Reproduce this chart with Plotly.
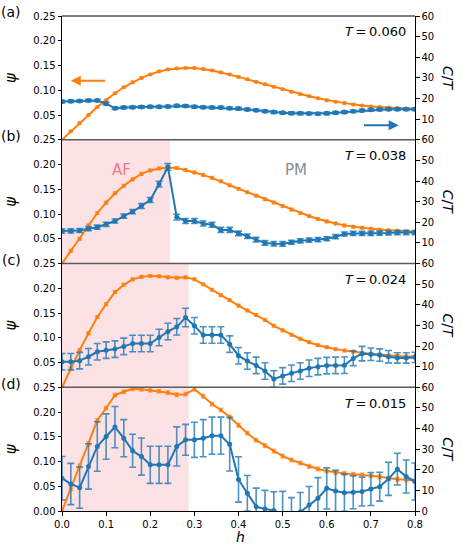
import plotly.graph_objects as go

# ---------------- data ----------------
h = [0.00, 0.02, 0.04, 0.06, 0.08, 0.10, 0.12, 0.14, 0.16, 0.18, 0.20, 0.22, 0.24, 0.26,
     0.28, 0.30, 0.32, 0.34, 0.36, 0.38, 0.40, 0.42, 0.44, 0.46, 0.48, 0.50, 0.52, 0.54,
     0.56, 0.58, 0.60, 0.62, 0.64, 0.66, 0.68, 0.70, 0.72, 0.74, 0.76, 0.78, 0.80]

temps = ["0.060", "0.038", "0.024", "0.015"]
panel_labels = ["(a)", "(b)", "(c)", "(d)"]
af_edge = [None, 0.245, 0.287, 0.287]

psi_a = [0.000, 0.017, 0.034, 0.050, 0.066, 0.080, 0.094, 0.106, 0.116, 0.125, 0.132, 0.138, 0.142, 0.144,
         0.145, 0.145, 0.143, 0.140, 0.136, 0.132, 0.127, 0.122, 0.117, 0.112, 0.107, 0.102, 0.097, 0.092,
         0.088, 0.084, 0.080, 0.077, 0.074, 0.071, 0.069, 0.067, 0.066, 0.065, 0.064, 0.063, 0.062]
psi_b = [0.000, 0.026, 0.050, 0.077, 0.102, 0.123, 0.142, 0.157, 0.170, 0.181, 0.188, 0.192, 0.194, 0.193,
         0.189, 0.184, 0.179, 0.173, 0.166, 0.158, 0.151, 0.144, 0.137, 0.130, 0.123, 0.116, 0.109, 0.102,
         0.096, 0.090, 0.085, 0.081, 0.077, 0.074, 0.072, 0.070, 0.068, 0.067, 0.066, 0.065, 0.064]
psi_c = [0.000, 0.038, 0.075, 0.109, 0.142, 0.168, 0.192, 0.207, 0.218, 0.223, 0.225, 0.224, 0.222, 0.221,
         0.222, 0.218, 0.208, 0.197, 0.186, 0.176, 0.165, 0.155, 0.146, 0.136, 0.124, 0.115, 0.106, 0.098,
         0.091, 0.085, 0.081, 0.077, 0.074, 0.072, 0.069, 0.067, 0.066, 0.064, 0.063, 0.062, 0.062]
psi_d = [0.000, 0.045, 0.091, 0.136, 0.183, 0.208, 0.234, 0.241, 0.247, 0.246, 0.244, 0.242, 0.239, 0.235,
         0.236, 0.246, 0.232, 0.216, 0.204, 0.190, 0.173, 0.157, 0.143, 0.132, 0.121, 0.111, 0.103, 0.097,
         0.090, 0.085, 0.081, 0.078, 0.076, 0.074, 0.073, 0.071, 0.069, 0.066, 0.064, 0.063, 0.061]

psi_err_a = [0.002, 0.002, 0.002, 0.002, 0.002, 0.002, 0.002, 0.002, 0.002, 0.002, 0.002, 0.002, 0.002, 0.002,
             0.002, 0.002, 0.002, 0.002, 0.002, 0.002, 0.002, 0.002, 0.002, 0.002, 0.002, 0.002, 0.002, 0.002,
             0.002, 0.002, 0.002, 0.002, 0.002, 0.002, 0.002, 0.002, 0.002, 0.002, 0.002, 0.002, 0.002]
psi_err_b = [0.003, 0.003, 0.003, 0.003, 0.003, 0.003, 0.003, 0.003, 0.003, 0.003, 0.003, 0.003, 0.003, 0.003,
             0.003, 0.003, 0.003, 0.003, 0.003, 0.003, 0.003, 0.003, 0.003, 0.003, 0.003, 0.003, 0.003, 0.003,
             0.003, 0.003, 0.003, 0.003, 0.003, 0.003, 0.003, 0.003, 0.003, 0.003, 0.003, 0.003, 0.003]
psi_err_c = [0.003, 0.003, 0.003, 0.003, 0.003, 0.003, 0.003, 0.003, 0.003, 0.003, 0.003, 0.003, 0.003, 0.003,
             0.003, 0.003, 0.003, 0.003, 0.003, 0.003, 0.003, 0.003, 0.003, 0.003, 0.003, 0.003, 0.003, 0.003,
             0.003, 0.003, 0.003, 0.003, 0.003, 0.003, 0.003, 0.003, 0.003, 0.003, 0.003, 0.003, 0.003]
psi_err_d = [0.004, 0.004, 0.004, 0.004, 0.004, 0.004, 0.004, 0.004, 0.004, 0.004, 0.004, 0.004, 0.004, 0.004,
             0.004, 0.004, 0.004, 0.004, 0.004, 0.004, 0.004, 0.004, 0.004, 0.004, 0.004, 0.004, 0.004, 0.004,
             0.004, 0.004, 0.004, 0.004, 0.004, 0.004, 0.004, 0.004, 0.004, 0.004, 0.004, 0.004, 0.004]

ct_a = [18.5, 18.7, 18.8, 19.0, 19.0, 17.5, 15.3, 15.6, 15.8, 15.9, 16.0, 16.0, 16.1, 16.5,
        16.4, 16.0, 15.8, 15.6, 15.6, 15.3, 15.1, 14.7, 14.3, 13.8, 13.4, 13.1, 12.9, 12.8,
        12.7, 12.6, 12.8, 13.1, 13.4, 13.8, 14.2, 14.5, 14.7, 14.8, 14.8, 14.8, 14.8]
ct_b = [15.7, 15.8, 16.0, 16.9, 17.6, 19.0, 20.6, 23.0, 25.1, 27.9, 30.8, 38.5, 46.8, 22.5,
        20.6, 20.6, 19.4, 18.8, 16.3, 16.3, 14.6, 13.2, 11.6, 10.0, 9.6, 9.5, 10.3, 11.0,
        11.3, 11.6, 12.0, 13.0, 14.3, 14.6, 14.6, 14.6, 14.7, 14.8, 15.0, 15.0, 15.0]
ct_c = [12.4, 12.4, 12.9, 14.8, 17.2, 18.0, 18.5, 19.8, 21.2, 21.2, 21.2, 24.1, 27.0, 29.3,
        33.8, 29.8, 25.3, 25.3, 25.3, 20.9, 15.3, 12.7, 10.6, 7.9, 4.0, 5.5, 6.8, 7.9,
        9.2, 10.0, 10.5, 10.6, 10.7, 14.0, 16.3, 16.0, 15.6, 14.8, 14.2, 14.2, 14.5]
ct_d = [15.9, 13.1, 11.3, 21.6, 31.3, 36.1, 40.7, 35.3, 29.2, 26.4, 22.4, 22.4, 22.4, 31.3,
        34.5, 34.5, 35.3, 36.5, 36.5, 32.4, 15.3, 8.6, 2.1, 1.0, 0.3, -1.5, -2.5, -0.5,
        2.9, 6.2, 11.0, 9.7, 8.9, 9.1, 9.4, 10.7, 11.8, 15.6, 20.3, 16.7, 14.3]

ct_err_a = [0.6, 0.6, 0.6, 0.6, 0.6, 0.6, 0.6, 0.6, 0.6, 0.6, 0.6, 0.6, 0.6, 0.6,
            0.6, 0.6, 0.6, 0.6, 0.6, 0.6, 0.6, 0.6, 0.6, 0.6, 0.6, 0.6, 0.6, 0.6,
            0.6, 0.6, 0.6, 0.6, 0.6, 0.6, 0.6, 0.6, 0.6, 0.6, 0.6, 0.6, 0.6]
ct_err_b = [1.0, 1.0, 1.0, 1.0, 1.0, 1.0, 1.0, 1.0, 1.0, 1.2, 1.2, 1.4, 1.6, 1.4,
            1.2, 1.2, 1.2, 1.2, 1.2, 1.2, 1.1, 1.1, 1.1, 1.1, 1.1, 1.1, 1.0, 1.0,
            1.0, 1.0, 1.0, 1.0, 1.0, 1.0, 1.0, 1.0, 1.0, 1.0, 1.0, 1.0, 1.0]
ct_err_c = [4.0, 4.0, 4.0, 4.0, 4.0, 4.0, 4.0, 4.0, 4.0, 4.0, 4.0, 4.0, 4.0, 4.0,
            4.5, 4.0, 4.0, 4.0, 4.0, 4.0, 4.0, 4.0, 4.0, 4.0, 4.0, 4.0, 4.0, 4.0,
            4.0, 4.0, 4.0, 4.0, 4.0, 3.5, 3.5, 3.0, 3.0, 3.0, 2.5, 2.5, 2.5]
ct_err_d = [10.5, 10.0, 10.0, 11.0, 12.0, 11.0, 10.0, 9.0, 8.0, 9.0, 9.0, 9.0, 9.0, 9.5,
            7.5, 8.5, 9.0, 9.0, 9.0, 13.0, 11.0, 8.6, 9.0, 9.0, 9.0, 11.0, 9.0, 9.5,
            9.0, 10.0, 10.0, 10.0, 9.0, 8.0, 7.0, 8.0, 7.0, 8.0, 7.7, 8.0, 9.0]

psi_ticks_upper = [0.05, 0.10, 0.15, 0.20, 0.25]
psi_ticks_bottom = [0.00, 0.05, 0.10, 0.15, 0.20, 0.25]
ct_ticks_upper = [10, 20, 30, 40, 50, 60]
ct_ticks_bottom = [0, 10, 20, 30, 40, 50, 60]
h_ticks = [0.0, 0.1, 0.2, 0.3, 0.4, 0.5, 0.6, 0.7, 0.8]

# ---------------- figure ----------------
ORANGE = "#ff7f0e"
BLUE = "#1f77b4"
FONT = "DejaVu Sans"

psis = [psi_a, psi_b, psi_c, psi_d]
psi_errs = [psi_err_a, psi_err_b, psi_err_c, psi_err_d]
cts = [ct_a, ct_b, ct_c, ct_d]
ct_errs = [ct_err_a, ct_err_b, ct_err_c, ct_err_d]

W, H = 463, 556
ML, MR, MT, MB = 62, 48, 16, 45
PW, PH = W - ML - MR, H - MT - MB


def px(xpix):
    return (xpix - ML) / PW


def py(ypix):
    return (H - MB - ypix) / PH


fig = go.Figure()
layout = dict(
    template="none",
    width=W, height=H,
    margin=dict(l=ML, r=MR, t=MT, b=MB, pad=0, autoexpand=False),
    paper_bgcolor="white", plot_bgcolor="white",
    font=dict(family=FONT, size=10, color="black"),
    showlegend=False,
)
annotations = []
shapes = []

for i in range(4):
    n = i + 1
    xa = "x" if n == 1 else f"x{n}"
    yl = "y" if n == 1 else f"y{2 * n - 1}"
    yr = f"y{2 * n}"
    xkey = "xaxis" if n == 1 else f"xaxis{n}"
    ylkey = "yaxis" if n == 1 else f"yaxis{2 * n - 1}"
    yrkey = f"yaxis{2 * n}"
    top = 1 - i / 4
    bot = 1 - (i + 1) / 4
    last = (n == 4)

    fig.add_trace(go.Scatter(
        x=h, y=psis[i], xaxis=xa, yaxis=yl, mode="lines+markers",
        line=dict(color=ORANGE, width=2), marker=dict(color=ORANGE, size=4),
        error_y=dict(type="data", array=psi_errs[i], color="rgba(255,127,14,0.55)",
                     thickness=1.2, width=2.5),
        cliponaxis=True,
    ))
    fig.add_trace(go.Scatter(
        x=h, y=cts[i], xaxis=xa, yaxis=yr, mode="lines+markers",
        line=dict(color=BLUE, width=2), marker=dict(color=BLUE, size=5),
        error_y=dict(type="data", array=ct_errs[i], color="rgba(31,119,180,0.8)",
                     thickness=1.6, width=3.5),
        cliponaxis=True,
    ))

    layout[xkey] = dict(
        domain=[0, 1], range=[0, 0.8], anchor=yl, automargin=False,
        showgrid=False, zeroline=False,
        showline=last, linecolor="black", linewidth=1,
        ticks="outside" if last else "", ticklen=3.5, tickwidth=1, tickcolor="black",
        tickvals=h_ticks, ticktext=[f"{v:.1f}" for v in h_ticks],
        showticklabels=last, tickfont=dict(size=10),
    )
    if n > 1:
        layout[xkey]["matches"] = "x"
    ptick = psi_ticks_bottom if last else psi_ticks_upper
    ctick = ct_ticks_bottom if last else ct_ticks_upper
    layout[ylkey] = dict(
        domain=[bot, top], range=[0, 0.25], anchor=xa, automargin=False,
        showgrid=False, zeroline=False,
        showline=True, linecolor="black", linewidth=1,
        ticks="outside", ticklen=3.5, tickwidth=1, tickcolor="black",
        tickvals=ptick, ticktext=[f"{v:.2f}" for v in ptick], tickfont=dict(size=10),
    )
    layout[yrkey] = dict(
        overlaying=yl, side="right", range=[0, 60], anchor=xa, automargin=False,
        showgrid=False, zeroline=False,
        showline=True, linecolor="black", linewidth=1,
        ticks="outside", ticklen=3.5, tickwidth=1, tickcolor="black",
        tickvals=ctick, ticktext=[str(v) for v in ctick], tickfont=dict(size=10),
    )

    # shaded AF region
    if af_edge[i] is not None:
        shapes.append(dict(type="rect", xref=xa, yref=yl, x0=0, x1=af_edge[i], y0=0, y1=0.25,
                           fillcolor="#fde2e5", line=dict(width=0), layer="below"))

    # panel label, axis titles, temperature
    annotations.append(dict(text=panel_labels[i], xref="paper", yref="paper",
                            x=px(11), y=top + 3.7 / PH, showarrow=False,
                            font=dict(size=14), xanchor="center", yanchor="middle"))
    annotations.append(dict(text="<i>ψ</i>", xref="paper", yref="paper",
                            x=px(11), y=(top + bot) / 2, showarrow=False, textangle=-90,
                            font=dict(size=15), xanchor="center", yanchor="middle"))
    annotations.append(dict(text="<i>C</i>/<i>T</i>", xref="paper", yref="paper",
                            x=px(448), y=(top + bot) / 2, showarrow=False, textangle=90,
                            font=dict(size=14), xanchor="center", yanchor="middle"))
    annotations.append(dict(text=f"<i>T</i>\u2009=\u2009{temps[i]}", xref="paper", yref="paper",
                            x=px(408), y=top - 16 / PH, showarrow=False,
                            font=dict(size=13), xanchor="right", yanchor="middle"))

# boundary lines
shapes.append(dict(type="line", xref="paper", yref="paper", x0=0, x1=1, y0=1, y1=1,
                   line=dict(color="black", width=1)))
for yb in [0.75, 0.5, 0.25]:
    shapes.append(dict(type="line", xref="paper", yref="paper", x0=0, x1=1, y0=yb, y1=yb,
                       line=dict(color="#5a5a5a", width=1.3)))

# phase labels
annotations.append(dict(text="AF", xref="paper", yref="paper", x=px(110), y=py(159),
                        showarrow=False, font=dict(size=15, color="#f07a85")))
annotations.append(dict(text="PM", xref="paper", yref="paper", x=px(296), y=py(159),
                        showarrow=False, font=dict(size=15, color="#8c8c8c")))
# x label
annotations.append(dict(text="<i>h</i>", xref="paper", yref="paper", x=px(240), y=py(547),
                        showarrow=False, font=dict(size=14)))

# arrows in panel (a)
annotations.append(dict(text="", x=0.02, y=0.119, xref="x", yref="y",
                        ax=0.101, ay=0.119, axref="x", ayref="y",
                        showarrow=True, arrowhead=2, arrowsize=1, arrowwidth=2,
                        arrowcolor=ORANGE))
annotations.append(dict(text="", x=0.763, y=7.0, xref="x", yref="y2",
                        ax=0.681, ay=7.0, axref="x", ayref="y2",
                        showarrow=True, arrowhead=2, arrowsize=1, arrowwidth=2,
                        arrowcolor=BLUE))

layout["annotations"] = annotations
layout["shapes"] = shapes
fig.update_layout(**layout)

fig.write_html(
    "out.html",
    config={"displayModeBar": False},
    post_script="document.body.style.margin='0';document.body.style.padding='0';",
)
